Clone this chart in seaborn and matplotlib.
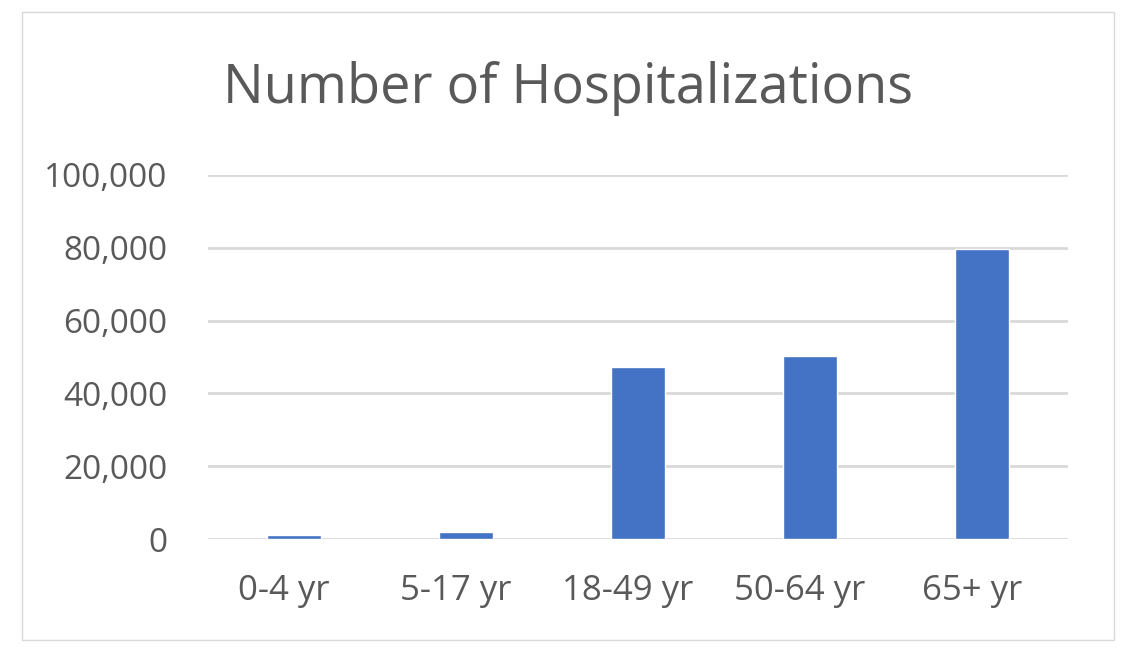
import seaborn as sns
import matplotlib.pyplot as plt
import matplotlib.transforms as mtransforms
import pandas as pd
from matplotlib.patches import Rectangle
from matplotlib.ticker import FuncFormatter

sns.set_theme(style="white")
plt.rcParams['font.family'] = ['Open Sans', 'DejaVu Sans']

# data
age_groups = ["0-4 yr", "5-17 yr", "18-49 yr", "50-64 yr", "65+ yr"]
hospitalizations = [1100, 1900, 47300, 50300, 79700]
y_ticks = [0, 20000, 40000, 60000, 80000, 100000]

df = pd.DataFrame({"age": age_groups, "n": hospitalizations})

text_color = "#595959"
grid_color = "#D9D9D9"

fig = plt.figure(figsize=(11.33, 6.56), dpi=100)
ax = fig.add_axes([208 / 1133, 117 / 656, 860 / 1133, 364 / 656])

sns.barplot(data=df, x="age", y="n", color="#4472C4", saturation=1,
            width=0.31, ax=ax, zorder=3)

ax.set_xlim(-0.5, 4.5)
ax.set_ylim(0, 100000)
ax.set_yticks(y_ticks)
ax.yaxis.set_major_formatter(FuncFormatter(lambda v, p: f"{int(v):,}"))
ax.grid(axis="y", color=grid_color, linewidth=2, zorder=0)
ax.set_axisbelow(True)
for s in ax.spines.values():
    s.set_visible(False)
ax.tick_params(axis="y", length=0, pad=29, labelsize=24, labelcolor=text_color)
ax.tick_params(axis="x", length=0, pad=25, labelsize=25, labelcolor=text_color)
ax.set_xlabel("")
ax.set_ylabel("")

# category labels sit a little left of the bar centres in the original
shift = mtransforms.ScaledTranslation(-10 / 100, 0, fig.dpi_scale_trans)
for lbl in ax.get_xticklabels():
    lbl.set_transform(lbl.get_transform() + shift)

fig.text(568 / 1133, 1 - 103 / 656, "Number of Hospitalizations", ha="center",
         va="baseline", fontsize=39, color=text_color)

# outer chart border
fig.patches.append(Rectangle((22 / 1133, 16 / 656), 1092 / 1133, 628 / 656,
                             transform=fig.transFigure, fill=False,
                             edgecolor="#D9D9D9", linewidth=1))

fig.savefig("out.png", dpi=100)
plt.close(fig)
